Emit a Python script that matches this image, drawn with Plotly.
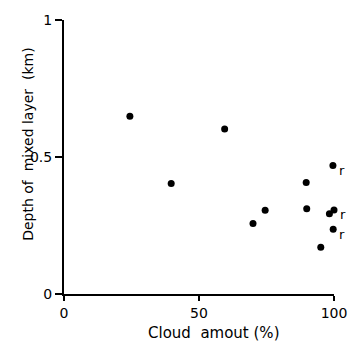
import plotly.graph_objects as go

cloud = [24.4, 39.7, 59.5, 70.0, 74.5, 89.7, 89.9, 95.1, 98.3, 99.6, 100.0, 99.7]
depth = [0.649, 0.403, 0.602, 0.257, 0.306, 0.407, 0.311, 0.171, 0.293, 0.469, 0.307, 0.236]
flags = ["", "", "", "", "", "", "", "", "", "r", "r", "r"]

x_ticks = [0, 50, 100]
x_tick_text = ["0", "50", "100"]
y_ticks = [0, 0.5, 1]
y_tick_text = ["0", "0.5", "1"]

x_title = "Cloud  amout (%)"
y_title = "Depth of  mixed layer  (km)"

FONT = "DejaVu Sans"

fig = go.Figure()
fig.add_trace(go.Scatter(
    x=cloud, y=depth, mode="markers",
    marker=dict(color="black", size=7),
    cliponaxis=False, showlegend=False,
))

for xv, yv, f in zip(cloud, depth, flags):
    if f:
        fig.add_annotation(x=xv, y=yv, text=f, showarrow=False,
                           xshift=9, yshift=-5,
                           font=dict(family=FONT, size=13, color="black"))

axis_common = dict(
    showline=True, linecolor="black", linewidth=2,
    ticks="outside", tickcolor="black", tickwidth=1.5,
    showgrid=False, zeroline=False,
    tickfont=dict(family=FONT, size=14, color="black"),
)

fig.update_xaxes(range=[0, 100], tickvals=x_ticks, ticktext=x_tick_text,
                 ticklen=5, **axis_common)
fig.update_yaxes(range=[0, 1], tickvals=y_ticks, ticktext=y_tick_text,
                 ticklen=7, **axis_common)

fig.add_annotation(text=x_title, xref="paper", yref="paper", x=0.554, y=0,
                   yshift=-39, showarrow=False, xanchor="center", yanchor="middle",
                   font=dict(family=FONT, size=15, color="black"))
fig.add_annotation(text=y_title, xref="paper", yref="paper", x=0, y=0.548,
                   xshift=-36, showarrow=False, xanchor="center", yanchor="middle",
                   textangle=-90,
                   font=dict(family=FONT, size=14, color="black"))

fig.update_layout(
    width=359, height=344,
    margin=dict(l=64, r=17, t=13, b=50),
    plot_bgcolor="white", paper_bgcolor="white",
)

fig.write_html(
    "out.html",
    config={"displayModeBar": False},
    post_script="document.body.style.margin='0';document.body.style.overflow='hidden';",
)
